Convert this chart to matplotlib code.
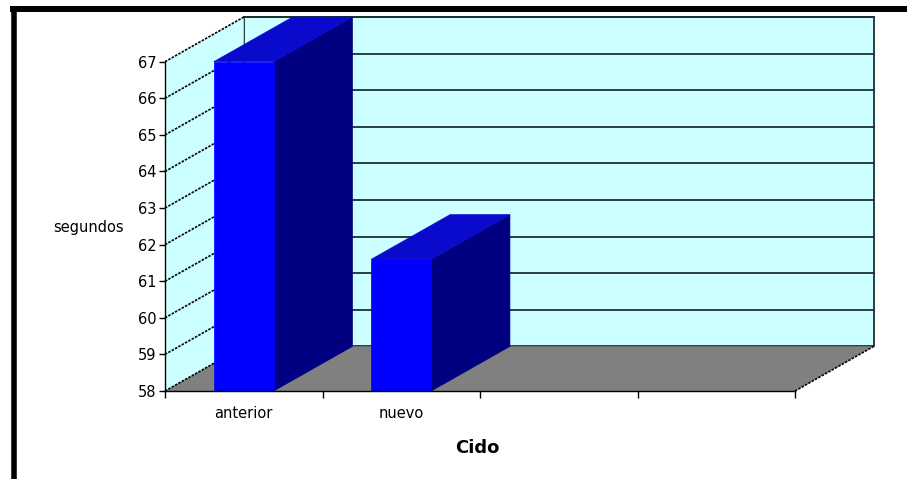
"""Gráfico de columnas 3D (estilo Excel): segundos por ciclo."""

import matplotlib
matplotlib.use("Agg")
import matplotlib.pyplot as plt
from matplotlib.patches import Polygon
from matplotlib.lines import Line2D

# ---------------------------------------------------------------------------
# Datos
# ---------------------------------------------------------------------------
categorias = ["anterior", "nuevo", "", ""]
segundos = [67.0, 61.6]
y_ticks = list(range(58, 68))

# ---------------------------------------------------------------------------
# Estilo
# ---------------------------------------------------------------------------
plt.rcParams.update({
    "font.family": "DejaVu Sans",
    "font.size": 10.5,
})

C_WALL = "#CCFFFF"
C_FLOOR = "#808080"
C_FRONT = "#0000FF"
C_TOP = "#0A0ACC"
C_SIDE = "#000080"
C_GRID = "#1E2E2E"

DEPTH_X = 0.5     # desplazamiento oblicuo de la profundidad (unidades de categoría)
DEPTH_Y = 1.22    # idem en unidades de eje y
BAR_W = 0.38
Y0 = y_ticks[0]
Y1 = y_ticks[-1]
NCAT = len(categorias)


def proj(x, y, d):
    """Proyección oblicua: d=0 plano frontal, d=1 plano trasero."""
    return (x + d * DEPTH_X, y + d * DEPTH_Y)


fig = plt.figure(figsize=(9.07, 4.79), dpi=100)
ax = fig.add_axes([165 / 907, 88 / 479, 630 / 907, 329.3 / 479])
ax.set_xlim(0, NCAT)
ax.set_ylim(Y0, Y1)
ax.patch.set_visible(False)


def poly(pts, fc, ec="none", lw=0.0, z=1):
    ax.add_patch(Polygon(pts, closed=True, facecolor=fc, edgecolor=ec,
                         linewidth=lw, zorder=z, clip_on=False))


def seg(p, q, **kw):
    ax.add_line(Line2D([p[0], q[0]], [p[1], q[1]], clip_on=False, **kw))


# Pared trasera
poly([proj(0, Y0, 1), proj(NCAT, Y0, 1), proj(NCAT, Y1, 1), proj(0, Y1, 1)],
     C_WALL, ec=C_GRID, lw=1.3, z=1)
# Pared lateral
poly([proj(0, Y0, 0), proj(0, Y0, 1), proj(0, Y1, 1), proj(0, Y1, 0)], C_WALL, z=1)
# Suelo
poly([proj(0, Y0, 0), proj(NCAT, Y0, 0), proj(NCAT, Y0, 1), proj(0, Y0, 1)], C_FLOOR, z=1)

# Rejilla
for t in y_ticks[1:]:
    seg(proj(0, t, 1), proj(NCAT, t, 1), color=C_GRID, lw=1.3, zorder=1.5)
for t in y_ticks:
    seg(proj(0, t, 0), proj(0, t, 1), color="black", lw=1.2,
        linestyle=(0, (1.5, 0.8)), zorder=1.5)
seg(proj(NCAT, Y0, 0), proj(NCAT, Y0, 1), color="black", lw=1.2,
    linestyle=(0, (1.5, 0.8)), zorder=1.5)

# Barras
for i, v in enumerate(segundos):
    x0 = i + 0.5 - BAR_W / 2
    x1 = i + 0.5 + BAR_W / 2
    poly([proj(x1, Y0, 0), proj(x1, Y0, 1), proj(x1, v, 1), proj(x1, v, 0)],
         C_SIDE, ec=C_SIDE, lw=0.5, z=3)
    poly([proj(x0, v, 0), proj(x1, v, 0), proj(x1, v, 1), proj(x0, v, 1)],
         C_TOP, ec=C_TOP, lw=0.5, z=3)
    poly([(x0, Y0), (x1, Y0), (x1, v), (x0, v)],
         C_FRONT, ec=C_FRONT, lw=0.5, z=3.1)

# Ejes
for side in ("top", "right"):
    ax.spines[side].set_visible(False)
for side in ("left", "bottom"):
    ax.spines[side].set_linewidth(1.0)
    ax.spines[side].set_zorder(4)

ax.set_yticks(y_ticks)
ax.tick_params(axis="y", direction="out", length=4, width=1, pad=2)
ax.set_xticks(range(NCAT + 1))
ax.set_xticklabels([""] * (NCAT + 1))
ax.tick_params(axis="x", which="major", direction="out", length=5, width=1)
ax.set_xticks([i + 0.5 for i in range(NCAT)], minor=True)
ax.set_xticklabels(categorias, minor=True)
ax.tick_params(axis="x", which="minor", length=0, pad=11)

ax.set_ylabel("segundos", rotation=0, ha="center", va="center")
ax.yaxis.set_label_coords(-0.122, 0.495)
ax.set_xlabel("Cido", fontsize=13, fontweight="bold", ha="center", va="center")
ax.xaxis.set_label_coords(0.495, -0.173)

# Marco negro (borde superior e izquierdo)
fig.add_artist(Line2D([10 / 907, 1], [1 - 9 / 479, 1 - 9 / 479],
                      transform=fig.transFigure, color="black", lw=4.3,
                      solid_capstyle="butt"))
fig.add_artist(Line2D([13.5 / 907, 13.5 / 907], [0, 1 - 9 / 479],
                      transform=fig.transFigure, color="black", lw=4.0,
                      solid_capstyle="butt"))

fig.savefig("out.png", dpi=100)
plt.close(fig)
